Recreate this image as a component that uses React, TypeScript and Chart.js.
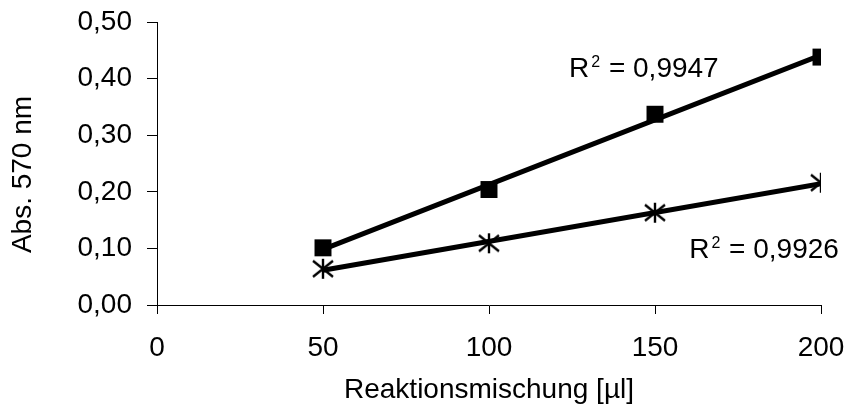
import { useEffect, useRef } from 'react';
import { Chart, registerables } from 'chart.js';

Chart.register(...registerables);

// ---- data ----
const volumes = [50, 100, 150, 200];
const seriesSquare = [0.101, 0.204, 0.337, 0.438];
const seriesStar = [0.064, 0.109, 0.163, 0.216];
const r2Labels = ['0,9947', '0,9926'];
const xAxisTitle = 'Reaktionsmischung [µl]';
const yAxisTitle = 'Abs. 570 nm';

const FONT_FAMILY = '"Liberation Sans", Arial, sans-serif';
const FONT_SIZE = 28;

function linearFit(xs: number[], ys: number[]) {
  const n = xs.length;
  const mx = xs.reduce((a, b) => a + b, 0) / n;
  const my = ys.reduce((a, b) => a + b, 0) / n;
  let sxy = 0;
  let sxx = 0;
  for (let i = 0; i < n; i++) {
    sxy += (xs[i] - mx) * (ys[i] - my);
    sxx += (xs[i] - mx) * (xs[i] - mx);
  }
  const slope = sxy / sxx;
  const intercept = my - slope * mx;
  return (x: number) => intercept + slope * x;
}

function trendPoints(xs: number[], ys: number[]) {
  const f = linearFit(xs, ys);
  const x0 = xs[0];
  const x1 = xs[xs.length - 1];
  return [
    { x: x0, y: f(x0) },
    { x: x1, y: f(x1) },
  ];
}

function makeStar(): HTMLCanvasElement {
  const c = document.createElement('canvas');
  c.width = 24;
  c.height = 24;
  const g = c.getContext('2d')!;
  g.strokeStyle = '#000';
  g.lineWidth = 2.4;
  g.lineCap = 'butt';
  g.beginPath();
  g.moveTo(12, 2);
  g.lineTo(12, 22);
  g.moveTo(2, 4);
  g.lineTo(22, 20);
  g.moveTo(22, 4);
  g.lineTo(2, 20);
  g.stroke();
  return c;
}

// label anchors in data space (left edge x, baseline y)
const r2Anchors = [
  { x: 124.1, y: 0.403 },
  { x: 160.3, y: 0.083 },
];

const yTitlePlugin = {
  id: 'ytitle',
  afterDraw(chart: any) {
    const { ctx, chartArea } = chart;
    ctx.save();
    ctx.fillStyle = '#000';
    ctx.font = `${FONT_SIZE}px ${FONT_FAMILY}`;
    ctx.textAlign = 'center';
    ctx.textBaseline = 'middle';
    const cy = (chartArea.top + chartArea.bottom) / 2 + 11;
    ctx.translate(23, cy);
    ctx.rotate(-Math.PI / 2);
    ctx.fillText(yAxisTitle, 0, 0);
    ctx.restore();
  },
};

const r2Plugin = {
  id: 'r2labels',
  afterDatasetsDraw(chart: any) {
    const { ctx, scales } = chart;
    ctx.save();
    ctx.fillStyle = '#000';
    ctx.textBaseline = 'alphabetic';
    ctx.textAlign = 'left';
    r2Labels.forEach((val, i) => {
      const a = r2Anchors[i];
      let x = scales.x.getPixelForValue(a.x);
      const y = scales.y.getPixelForValue(a.y);
      ctx.font = `${FONT_SIZE}px ${FONT_FAMILY}`;
      ctx.fillText('R', x, y);
      x += ctx.measureText('R').width;
      ctx.font = `16px ${FONT_FAMILY}`;
      ctx.fillText('2', x + 2, y - 10);
      x += ctx.measureText('2').width + 3;
      ctx.font = `${FONT_SIZE}px ${FONT_FAMILY}`;
      ctx.fillText(' = ' + val, x, y);
    });
    ctx.restore();
  },
};

export default function App() {
  const ref = useRef<HTMLCanvasElement | null>(null);

  useEffect(() => {
    if (!ref.current) return;
    const font = { family: FONT_FAMILY, size: FONT_SIZE };
    const star = makeStar();
    const chart = new Chart(ref.current, {
      type: 'scatter',
      data: {
        datasets: [
          {
            label: 'Quadrat',
            data: volumes.map((x, i) => ({ x, y: seriesSquare[i] })),
            pointStyle: 'rect',
            pointRadius: 12,
            pointHoverRadius: 12,
            backgroundColor: '#000',
            borderColor: '#000',
            borderWidth: 0,
            showLine: false,
            order: 0,
          },
          {
            label: 'Stern',
            data: volumes.map((x, i) => ({ x, y: seriesStar[i] })),
            pointStyle: star as any,
            pointRadius: 12,
            showLine: false,
            order: 0,
          },
          {
            label: 'Trend Quadrat',
            data: trendPoints(volumes, seriesSquare),
            showLine: true,
            borderColor: '#000',
            borderWidth: 5,
            pointRadius: 0,
            order: 1,
          },
          {
            label: 'Trend Stern',
            data: trendPoints(volumes, seriesStar),
            showLine: true,
            borderColor: '#000',
            borderWidth: 5,
            pointRadius: 0,
            order: 1,
          },
        ],
      },
      options: {
        responsive: false,
        animation: false,
        events: [],
        layout: { padding: { top: 22, right: 30, left: 0, bottom: 0 } },
        plugins: {
          legend: { display: false },
          tooltip: { enabled: false },
        },
        scales: {
          x: {
            type: 'linear',
            min: 0,
            max: 200,
            ticks: {
              stepSize: 50,
              font,
              color: '#000',
              padding: 17,
              maxRotation: 0,
            },
            grid: {
              drawOnChartArea: false,
              drawTicks: true,
              tickLength: 9,
              color: '#000',
              lineWidth: 1,
            },
            border: { display: true, color: '#000', width: 1 },
            title: {
              display: true,
              text: xAxisTitle,
              font,
              color: '#000',
              padding: { top: 0, bottom: 9 },
            },
            afterFit(s: any) {
              s.height = 111;
              s.paddingLeft = 0;
              s.paddingRight = 0;
            },
          },
          y: {
            type: 'linear',
            min: 0,
            max: 0.5,
            ticks: {
              stepSize: 0.1,
              font,
              color: '#000',
              padding: 15,
              callback: (v: any) => Number(v).toFixed(2).replace('.', ','),
            },
            grid: {
              drawOnChartArea: false,
              drawTicks: true,
              tickLength: 10,
              color: '#000',
              lineWidth: 1,
            },
            border: { display: true, color: '#000', width: 1 },
            title: { display: false },
            afterFit(s: any) {
              s.width = 157;
              s.paddingTop = 0;
              s.paddingBottom = 0;
            },
          },
        },
      },
      plugins: [r2Plugin, yTitlePlugin],
    });
    return () => chart.destroy();
  }, []);

  return (
    <div style={{ position: 'absolute', left: 0, top: 0, width: 851, height: 416, background: '#fff' }}>
      <canvas ref={ref} width={851} height={416} />
    </div>
  );
}
